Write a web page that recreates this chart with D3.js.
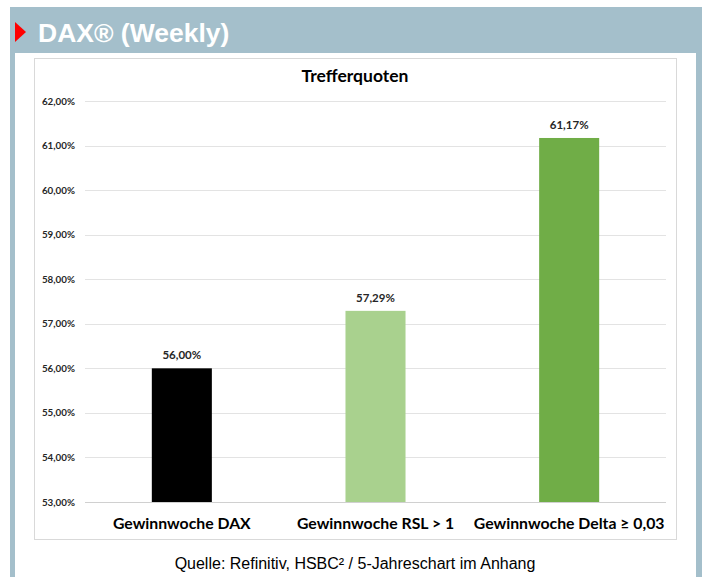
<!DOCTYPE html>
<html lang="de">
<head>
<meta charset="utf-8">
<title>DAX Weekly Trefferquoten</title>
<style>
  body { margin: 0; background: #fff; }
  svg { display: block; }
</style>
</head>
<body>
<script src="https://cdn.jsdelivr.net/npm/d3@7"></script>
<script>
var categories = ["Gewinnwoche DAX", "Gewinnwoche RSL > 1", "Gewinnwoche Delta \u2265 0,03"];
var values = [56.00, 57.29, 61.17];
var barColors = ["#000000", "#a9d18e", "#70ad47"];
var yTicks = [53, 54, 55, 56, 57, 58, 59, 60, 61, 62];

var w = 702, h = 577;
var svg = d3.select("body").append("svg").attr("width", w).attr("height", h);

// blue frame + header
svg.append("rect").attr("x", 10).attr("y", 7).attr("width", w - 10).attr("height", h - 7).attr("fill", "#a4bfcb");
svg.append("rect").attr("x", 15).attr("y", 53).attr("width", 681).attr("height", h - 53).attr("fill", "#fff");
svg.append("path").attr("d", "M15,22 L26,32 L15,42 Z").attr("fill", "#ff0000");
svg.append("text").attr("x", 38).attr("y", 42)
  .attr("font-family", "Liberation Sans, Arial, sans-serif")
  .attr("font-weight", "bold").attr("font-size", 26.5).attr("fill", "#fff")
  .text("DAX\u00ae (Weekly)");

// chart box
svg.append("rect").attr("x", 34.5).attr("y", 58.5).attr("width", 642).attr("height", 481)
  .attr("fill", "#fff").attr("stroke", "#d9d9d9");

svg.append("text").attr("x", 355).attr("y", 82).attr("text-anchor", "middle")
  .attr("font-family", "Lato, Open Sans, sans-serif").attr("font-weight", "bold")
  .attr("font-size", 17.5).attr("fill", "#000").text("Trefferquoten");

var x = d3.scaleBand().domain(categories).range([85, 666]).paddingInner(0.69).paddingOuter(0.345);
var y = d3.scaleLinear().domain([53, 62]).range([502, 101]);

var fmt = function(v) { return v.toFixed(2).replace(".", ",") + "%"; };

// grid
svg.append("g").selectAll("line").data(yTicks).enter().append("line")
  .attr("x1", 85).attr("x2", 666)
  .attr("y1", function(d) { return Math.round(y(d)) + 0.5; })
  .attr("y2", function(d) { return Math.round(y(d)) + 0.5; })
  .attr("stroke", function(d) { return d === 53 ? "#d0d0d0" : "#e3e3e3"; })
  .attr("stroke-width", 1);

// y labels
svg.append("g").selectAll("text").data(yTicks).enter().append("text")
  .attr("x", 75).attr("y", function(d) { return y(d) + 3.5; })
  .attr("text-anchor", "end")
  .attr("font-family", "Lato, Open Sans, sans-serif").attr("font-weight", "bold")
  .attr("font-size", 9.8).attr("fill", "#262626")
  .text(fmt);

// bars
svg.append("g").selectAll("rect").data(values).enter().append("rect")
  .attr("x", function(d, i) { return x(categories[i]); })
  .attr("width", x.bandwidth())
  .attr("y", function(d) { return y(d); })
  .attr("height", function(d) { return y(53) - y(d); })
  .attr("fill", function(d, i) { return barColors[i]; });

// value labels
svg.append("g").selectAll("text").data(values).enter().append("text")
  .attr("x", function(d, i) { return x(categories[i]) + x.bandwidth() / 2; })
  .attr("y", function(d) { return y(d) - 9; })
  .attr("text-anchor", "middle")
  .attr("font-family", "Lato, Open Sans, sans-serif").attr("font-weight", "bold")
  .attr("font-size", 11.5).attr("fill", "#262626")
  .text(fmt);

// category labels
svg.append("g").selectAll("text").data(categories).enter().append("text")
  .attr("x", function(d) { return x(d) + x.bandwidth() / 2; })
  .attr("y", 529)
  .attr("text-anchor", "middle")
  .attr("font-family", "Lato, Open Sans, sans-serif").attr("font-weight", "bold")
  .attr("font-size", 15.8).attr("fill", "#000")
  .text(function(d) { return d; });

// source
svg.append("text").attr("x", 355).attr("y", 569).attr("text-anchor", "middle")
  .attr("font-family", "Liberation Sans, Arial, sans-serif")
  .attr("font-size", 16).attr("fill", "#000")
  .text("Quelle: Refinitiv, HSBC\u00b2 / 5-Jahreschart im Anhang");
</script>
</body>
</html>
